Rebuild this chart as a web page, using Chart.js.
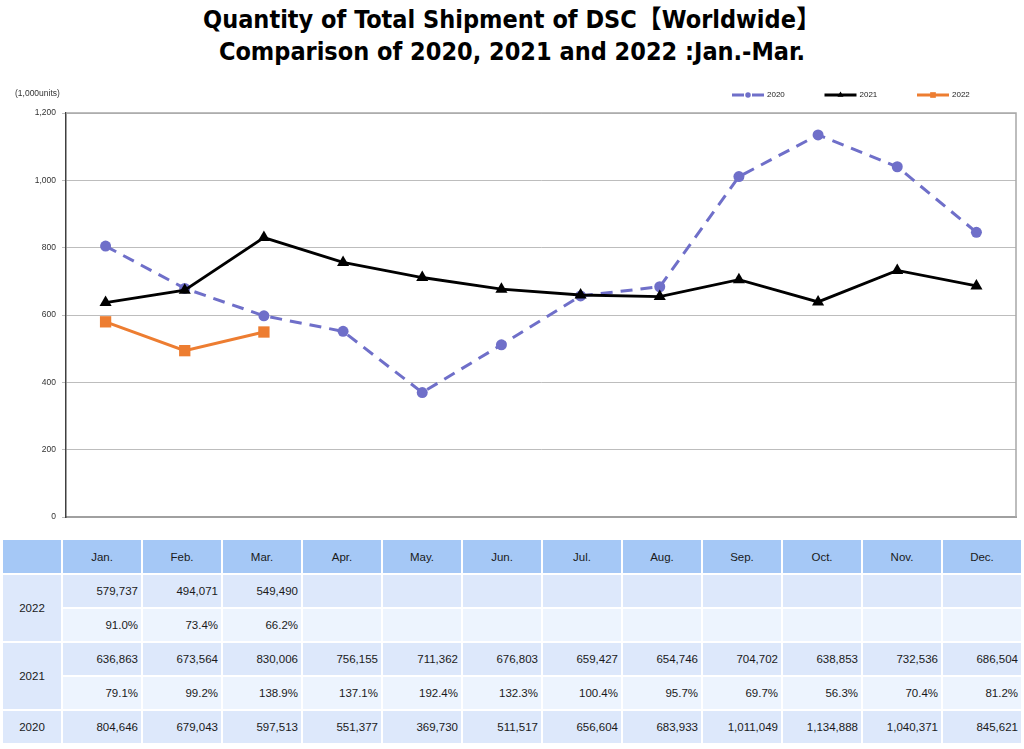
<!DOCTYPE html>
<html>
<head>
<meta charset="utf-8">
<script src="https://cdn.jsdelivr.net/npm/chart.js@4.4.2/dist/chart.umd.min.js"></script>
<style>
  body { margin: 0; background: #fff; width: 1024px; height: 749px; overflow: hidden; position: relative; font-family: "Liberation Sans", Arial, sans-serif; }
  #title { position: absolute; top: 4px; left: 0; width: 1024px; text-align: center; font-weight: bold; font-size: 25px; line-height: 32px; color: #000;
    font-family: "DejaVu Sans Condensed", "DejaVu Sans", "Noto Sans CJK JP", sans-serif; }
  #chartBox { position: absolute; left: 0; top: 80px; width: 1024px; height: 455px; }
  #dataTable { position: absolute; left: 1px; top: 538px; border-collapse: separate; border-spacing: 2px; font-size: 11.5px; color: #1a1a1a; }
  #dataTable th { background: #a5c8f6; height: 33px; font-weight: normal; text-align: center; padding: 0; width: 78px; }
  #dataTable th.corner { width: 58px; }
  #dataTable td { height: 32px; padding: 0 3px 0 0; text-align: right; width: 75px; }
  #dataTable td.year { text-align: center; padding: 0; width: 58px; background: #dde8fb; }
  #dataTable tr.units td { background: #dde8fb; }
  #dataTable tr.ratio td { background: #edf4fe; }
</style>
</head>
<body>
<div id="title">Quantity of Total Shipment of DSC【Worldwide】<br>Comparison of 2020, 2021 and 2022 :Jan.-Mar.</div>
<div id="chartBox"><canvas id="shipmentChart"></canvas></div>
<table id="dataTable"></table>
<script>
const months = ['Jan.', 'Feb.', 'Mar.', 'Apr.', 'May.', 'Jun.', 'Jul.', 'Aug.', 'Sep.', 'Oct.', 'Nov.', 'Dec.'];
const units2020 = [804646, 679043, 597513, 551377, 369730, 511517, 656604, 683933, 1011049, 1134888, 1040371, 845621];
const units2021 = [636863, 673564, 830006, 756155, 711362, 676803, 659427, 654746, 704702, 638853, 732536, 686504];
const units2022 = [579737, 494071, 549490];
const ratio2021 = [79.1, 99.2, 138.9, 137.1, 192.4, 132.3, 100.4, 95.7, 69.7, 56.3, 70.4, 81.2];
const ratio2022 = [91.0, 73.4, 66.2];
const yTicks = [0, 200, 400, 600, 800, 1000, 1200];

// table under the chart
const table = document.getElementById('dataTable');
const fmt = v => v.toLocaleString('en-US');
const cells = (arr, f) => months.map((m, i) => `<td>${arr[i] !== undefined ? f(arr[i]) : ''}</td>`).join('');
const pct = v => v.toFixed(1) + '%';
table.innerHTML =
  `<tr><th class="corner"></th>${months.map(m => `<th>${m}</th>`).join('')}</tr>` +
  `<tr class="units"><td class="year" rowspan="2">2022</td>${cells(units2022, fmt)}</tr>` +
  `<tr class="ratio">${cells(ratio2022, pct)}</tr>` +
  `<tr class="units"><td class="year" rowspan="2">2021</td>${cells(units2021, fmt)}</tr>` +
  `<tr class="ratio">${cells(ratio2021, pct)}</tr>` +
  `<tr class="units"><td class="year">2020</td>${cells(units2020, fmt)}</tr>`;

const toThousands = arr => arr.map(v => v / 1000);
const FONT = '"Liberation Sans", Arial, sans-serif';

const framePlugin = {
  id: 'frame',
  beforeDatasetsDraw(chart) {
    const { ctx, chartArea: a } = chart;
    ctx.save();
    ctx.strokeStyle = '#a8a8a8';
    ctx.lineWidth = 1.5;
    ctx.beginPath();
    ctx.moveTo(a.left, a.top);
    ctx.lineTo(a.right, a.top);
    ctx.lineTo(a.right, a.bottom);
    ctx.stroke();
    ctx.restore();
  },
  afterDraw(chart) {
    const ctx = chart.ctx;
    ctx.save();
    ctx.font = '8.5px ' + FONT;
    ctx.fillStyle = '#333';
    ctx.textBaseline = 'middle';
    ctx.fillText('(1,000units)', 15, 14);
    chart.data.datasets.forEach((ds, i) => {
      const x0 = 732 + i * 92.5, y = 15;
      ctx.strokeStyle = ds.borderColor;
      ctx.lineWidth = 3;
      ctx.setLineDash(ds.borderDash || []);
      ctx.beginPath();
      ctx.moveTo(x0, y);
      ctx.lineTo(x0 + 32, y);
      ctx.stroke();
      ctx.setLineDash([]);
      ctx.fillStyle = ds.borderColor;
      Chart.helpers.drawPoint(ctx, { pointStyle: ds.pointStyle, radius: ds.pointRadius * 0.5, rotation: 0, borderWidth: 0 }, x0 + 16, y);
      ctx.fillStyle = '#222';
      ctx.font = '8px ' + FONT;
      ctx.fillText(ds.label, x0 + 35, y);
    });
    ctx.restore();
  }
};

new Chart(document.getElementById('shipmentChart'), {
  type: 'line',
  data: {
    labels: months,
    datasets: [{
      label: '2020',
      data: toThousands(units2020),
      borderColor: '#6f6fc9',
      backgroundColor: '#6f6fc9',
      borderWidth: 3,
      borderDash: [12, 8],
      pointStyle: 'circle',
      pointRadius: 5.5,
      pointBorderWidth: 0,
      order: 3
    }, {
      label: '2021',
      data: toThousands(units2021),
      borderColor: '#000000',
      backgroundColor: '#000000',
      borderWidth: 2.8,
      pointStyle: 'triangle',
      pointRadius: 7,
      pointBorderWidth: 0,
      order: 1
    }, {
      label: '2022',
      data: toThousands(units2022),
      borderColor: '#ed7d31',
      backgroundColor: '#ed7d31',
      borderWidth: 3,
      pointStyle: 'rect',
      pointRadius: 8,
      pointBorderWidth: 0,
      order: 2
    }]
  },
  options: {
    animation: false,
    responsive: true,
    maintainAspectRatio: false,
    layout: { padding: { left: 0, right: 8, top: 33, bottom: 18 } },
    plugins: {
      legend: { display: false },
      tooltip: { enabled: false }
    },
    scales: {
      x: {
        offset: true,
        ticks: { display: false },
        grid: { display: false, drawTicks: false },
        border: { color: '#a0a0a0', width: 2 },
        afterFit: scale => { scale.height = 0; }
      },
      y: {
        min: 0,
        max: 1200,
        afterBuildTicks: scale => { scale.ticks = yTicks.map(v => ({ value: v })); },
        ticks: {
          callback: v => v.toLocaleString('en-US'),
          font: { size: 8.5, family: FONT },
          color: '#333',
          padding: 6
        },
        grid: { color: '#bdbdbd', tickLength: 4 },
        border: { color: '#404040', width: 1.5 },
        afterFit: scale => { scale.width = 66; }
      }
    }
  },
  plugins: [framePlugin]
});
</script>
</body>
</html>
